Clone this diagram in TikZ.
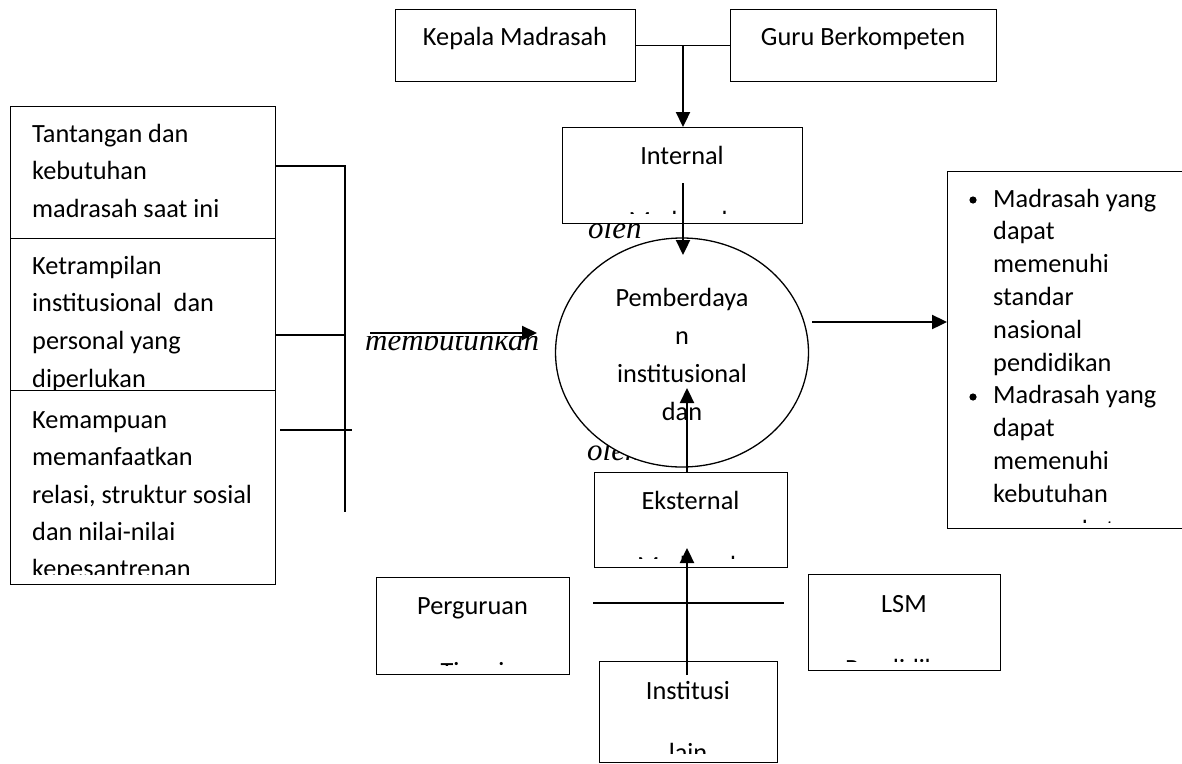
\documentclass[tikz,border=0pt]{standalone}
\usepackage{fontspec}
\setmainfont{Carlito}
\newfontfamily\lblfont{Liberation Serif}
\usetikzlibrary{shapes.geometric,arrows.meta}
\begin{document}
\begin{tikzpicture}[x=1pt,y=-1pt,
 box/.style={draw, fill=white, line width=1.3pt, inner sep=0pt, anchor=north west},
 txt/.style={anchor=base, inner sep=0pt, font=\fontsize{26.3}{30}\selectfont},
 ltxt/.style={anchor=base west, inner sep=0pt, font=\fontsize{26.3}{30}\selectfont},
 lbl/.style={anchor=base west, inner sep=0pt, font=\fontsize{31}{34}\lblfont\itshape},
 conn/.style={line width=1.5pt},
 arr/.style={line width=2.3pt, -{Triangle[length=15pt,width=14pt]}}
]
\useasboundingbox (0,0) rectangle (1182,763);

% italic labels (partly covered later)
\node[lbl] (oleh1) at (588,238) {oleh};
\node[lbl] (oleh2) at (587,460) {oleh};
\begin{scope}
\clip (355,336) rectangle (560,372);
\node[lbl] (mbt) at (365,350) {membutuhkan};
\end{scope}

% left boxes
\node[box, minimum width=265, minimum height=132] (b1) at (10,106) {};
\node[ltxt] (b1a) at (32,142) {Tantangan dan};
\node[ltxt] (b1b) at (32,179.5) {kebutuhan};
\node[ltxt] (b1c) at (32,217) {madrasah saat ini};

\node[box, minimum width=265, minimum height=152] (b2) at (10,238) {};
\node[ltxt] (b2a) at (32,274) {Ketrampilan};
\node[ltxt] (b2b) at (32,311.5) {institusional\ \ dan};
\node[ltxt] (b2c) at (32,349) {personal yang};
\node[ltxt] (b2d) at (32,387) {diperlukan};

\node[box, minimum width=265, minimum height=194] (b3) at (10,390) {};
\node[ltxt] (b3a) at (32,428) {Kemampuan};
\node[ltxt] (b3b) at (32,465.5) {memanfaatkan};
\node[ltxt] (b3c) at (32,503) {relasi, struktur sosial};
\node[ltxt] (b3d) at (32,540.5) {dan nilai-nilai};
\begin{scope}
\clip (12,550) rectangle (272,574);
\node[ltxt] (b3e) at (32,577) {kepesantrenan};
\end{scope}

% top boxes
\node[box, minimum width=240, minimum height=72] (kepala) at (395,9) {};
\node[txt] (kepalat) at (515,45) {Kepala Madrasah};
\node[box, minimum width=266, minimum height=72] (guru) at (730,9) {};
\node[txt] (gurut) at (863,45) {Guru Berkompeten};

\node[box, minimum width=240, minimum height=96] (internal) at (562,127) {};
\node[txt] (internalt) at (682,164) {Internal};
\begin{scope}
\clip (564,180) rectangle (800,213);
\node[txt] (internalm) at (682,229) {Madrasah};
\end{scope}

% ellipse
\node[draw, ellipse, fill=white, line width=1.3pt, minimum width=253, minimum height=229, inner sep=0pt] (emp) at (682,352.5) {};
\node[txt] (e1) at (682,306) {Pemberdaya};
\node[txt] (e2) at (682,344) {n};
\node[txt] (e3) at (682,382) {institusional};
\node[txt] (e4) at (682,420) {dan};

% bottom boxes
\node[box, minimum width=193, minimum height=95] (eksternal) at (594,472) {};
\node[txt] (eksternalt) at (690.5,509) {Eksternal};
\begin{scope}
\clip (596,520) rectangle (785,558);
\node[txt] (eksternalm) at (690.5,574) {Madrasah};
\end{scope}

\node[box, minimum width=193, minimum height=97] (pt) at (376,577) {};
\node[txt] (ptt) at (472.5,614) {Perguruan};
\begin{scope}
\clip (378,630) rectangle (567,665);
\node[txt] (ptm) at (472.5,680) {Tinggi};
\end{scope}

\node[box, minimum width=192, minimum height=96] (lsm) at (808,574) {};
\node[txt] (lsmt) at (904,612) {LSM};
\begin{scope}
\clip (810,630) rectangle (998,661);
\node[txt] (lsmm) at (904,677) {Pendidikan};
\end{scope}

\node[box, minimum width=178, minimum height=101] (inst) at (599,661) {};
\node[txt] (instt) at (688,699) {Institusi};
\begin{scope}
\clip (601,715) rectangle (775,753);
\node[txt] (instm) at (688,761) {lain};
\end{scope}

% right box
\node[box, minimum width=237, minimum height=357] (rbox) at (947,171) {};
\fill (973,200) circle (3.6);
\fill (973,397) circle (3.6);
\node[ltxt] (r1) at (993,207) {Madrasah yang};
\node[ltxt] (r2) at (993,239.8) {dapat};
\node[ltxt] (r3) at (993,272.6) {memenuhi};
\node[ltxt] (r4) at (993,305.4) {standar};
\node[ltxt] (r5) at (993,338.2) {nasional};
\node[ltxt] (r6) at (993,371) {pendidikan};
\node[ltxt] (r7) at (993,403.8) {Madrasah yang};
\node[ltxt] (r8) at (993,436.6) {dapat};
\node[ltxt] (r9) at (993,469.4) {memenuhi};
\node[ltxt] (r10) at (993,502.2) {kebutuhan};
\begin{scope}
\clip (950,510) rectangle (1180,522);
\node[ltxt] (r11) at (993,538) {masyarakat};
\end{scope}

% coordinates for connectors
\coordinate (jt) at (683,45);
\coordinate (ia) at (683,183);
\coordinate (ib) at (683,255);
\coordinate (ma) at (370,333);
\coordinate (mb) at (537,333);
\coordinate (ra) at (812,322);
\coordinate (ea) at (687,472);
\coordinate (eb) at (687,388);
\coordinate (sa) at (687,675);
\coordinate (sb) at (687,548);
\coordinate (ha) at (593,603);
\coordinate (hb) at (784,603);
\coordinate (k1) at (275,166);
\coordinate (k2) at (345,166);
\coordinate (k3) at (345,512);
\coordinate (k4) at (275,335);
\coordinate (k5) at (345,335);
\coordinate (k6) at (280,430);
\coordinate (k7) at (352,430);

% connectors
\draw[conn] (kepala.east) -- (guru.west);
\draw[arr] (jt) -- (internal.north -| jt);
\draw[arr] (ia) -- (ib);
\draw[arr] (ma) -- (mb);
\draw[arr] (ra) -- (rbox.west |- ra);
\draw[arr] (ea) -- (eb);
\draw[arr] (sa) -- (sb);
\draw[conn] (ha) -- (hb);
\draw[conn] (k1) -- (k2) -- (k3);
\draw[conn] (k4) -- (k5);
\draw[conn] (k6) -- (k7);
\end{tikzpicture}
\end{document}
